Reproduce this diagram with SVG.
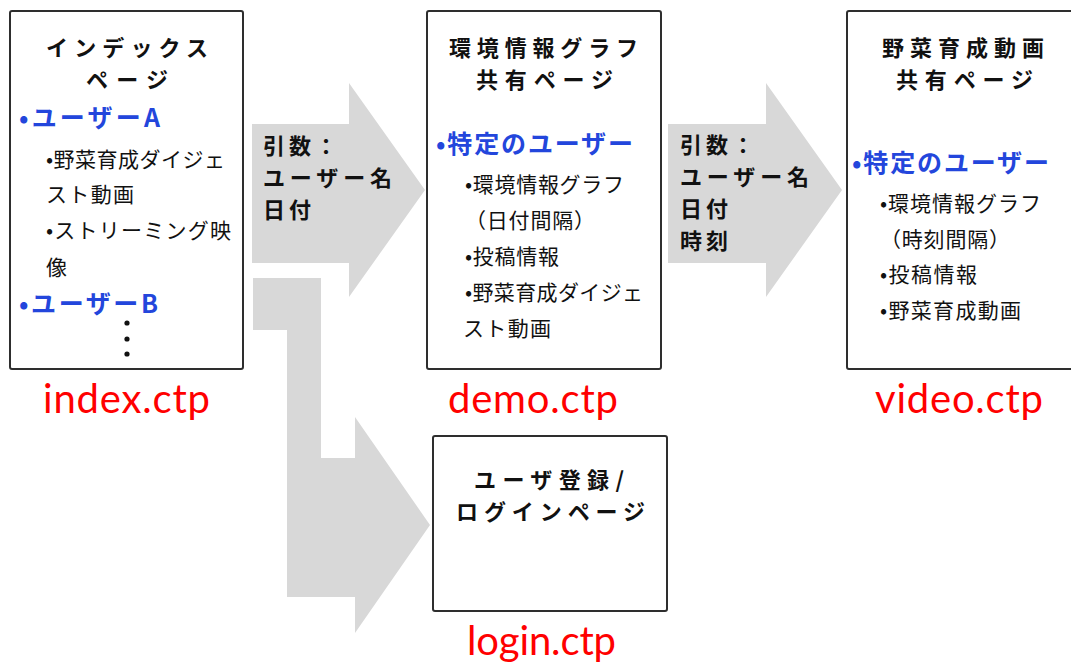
<svg xmlns="http://www.w3.org/2000/svg" width="1071" height="666" viewBox="0 0 1071 666">
<style>
.box{fill:#ffffff;stroke:#2e2e2e;stroke-width:2}
.arrow{fill:#d8d8d8;stroke:none}
.t{font-family:"Noto Sans CJK JP","Noto Sans",sans-serif;font-weight:bold;font-size:22px;fill:#111111}
.b{font-family:"Noto Sans CJK JP","Noto Sans",sans-serif;font-weight:bold;font-size:25px;fill:#2346dc}
.s{font-family:"Noto Sans CJK JP","Noto Sans",sans-serif;font-size:21px;fill:#111111}
.a{font-family:"Noto Sans CJK JP","Noto Sans",sans-serif;font-weight:bold;font-size:22px;fill:#111111;letter-spacing:4px}
.r{font-family:Lato,"Open Sans",sans-serif;font-size:40px;fill:#ff0000}
</style>
<rect width="1071" height="666" fill="#ffffff"/>
<g id="connectors">
<polygon class="arrow" points="252,124 349,124 349,83 425,190 349,297 349,263 252,263"/>
<polygon class="arrow" points="668,124 766,124 766,83 842,190 766,297 766,263 668,263"/>
<polygon class="arrow" points="253,278 321,278 321,458 355,458 355,417 430,525 355,633 355,597 287,597 287,330 253,330"/>
<text class="a" x="263" y="154">引数：</text>
<text class="a" x="263" y="186" textLength="133">ユーザー名</text>
<text class="a" x="263" y="218">日付</text>
<text class="a" x="680" y="153">引数：</text>
<text class="a" x="680" y="185" textLength="133">ユーザー名</text>
<text class="a" x="680" y="217">日付</text>
<text class="a" x="680" y="249">時刻</text>
</g>
<g id="index">
<rect class="box" x="10" y="11" width="233" height="358" rx="2"/>
<text class="t" x="46" y="56" textLength="162">インデックス</text>
<text class="t" x="86" y="88" textLength="82">ページ</text>
<text class="b" x="19" y="127" textLength="141">•ユーザーA</text>
<text class="s" x="46" y="167" textLength="179">•野菜育成ダイジェ</text>
<text class="s" x="46" y="202" textLength="88">スト動画</text>
<text class="s" x="46" y="238" textLength="185">•ストリーミング映</text>
<text class="s" x="46" y="275">像</text>
<text class="b" x="19" y="313" textLength="139">•ユーザーB</text>
<circle cx="127" cy="323" r="2.6" fill="#111"/>
<circle cx="127" cy="339" r="2.6" fill="#111"/>
<circle cx="127" cy="354" r="2.6" fill="#111"/>
<text class="r" x="43" y="413" textLength="167">index.ctp</text>
</g>
<g id="demo">
<rect class="box" x="427" y="11" width="234" height="358" rx="2"/>
<text class="t" x="449" y="56" textLength="189">環境情報グラフ</text>
<text class="t" x="476" y="88" textLength="137">共有ページ</text>
<text class="b" x="436" y="153" textLength="197">•特定のユーザー</text>
<text class="s" x="465" y="192" textLength="159">•環境情報グラフ</text>
<text class="s" x="465" y="228" textLength="130">（日付間隔）</text>
<text class="s" x="465" y="264" textLength="94">•投稿情報</text>
<text class="s" x="465" y="300" textLength="178">•野菜育成ダイジェ</text>
<text class="s" x="463" y="336" textLength="88">スト動画</text>
<text class="r" x="448" y="413" textLength="170">demo.ctp</text>
</g>
<g id="video">
<rect class="box" x="847" y="11" width="240" height="358" rx="2"/>
<text class="t" x="882" y="56" textLength="162">野菜育成動画</text>
<text class="t" x="896" y="88" textLength="137">共有ページ</text>
<text class="b" x="852" y="172" textLength="197">•特定のユーザー</text>
<text class="s" x="880" y="211" textLength="161">•環境情報グラフ</text>
<text class="s" x="880" y="247" textLength="130">（時刻間隔）</text>
<text class="s" x="880" y="282" textLength="97">•投稿情報</text>
<text class="s" x="880" y="318" textLength="141">•野菜育成動画</text>
<text class="r" x="875" y="413" textLength="168">video.ctp</text>
</g>
<g id="login">
<rect class="box" x="433" y="436" width="234" height="175" rx="2"/>
<text class="t" x="474" y="488" textLength="150">ユーザ登録/</text>
<text class="t" x="456" y="520" textLength="189">ログインページ</text>
<text class="r" x="467" y="655" textLength="149">login.ctp</text>
</g>
</svg>
